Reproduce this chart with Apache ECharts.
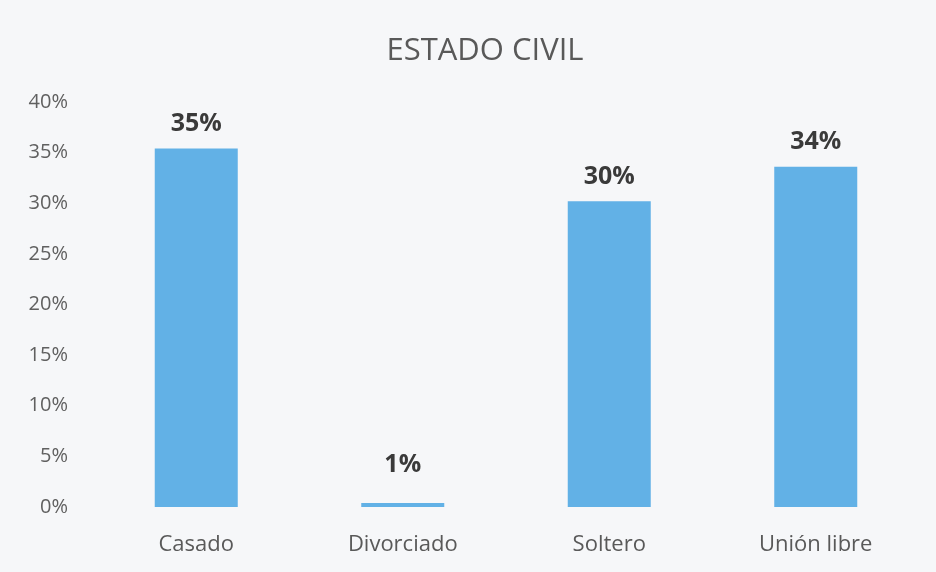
<!DOCTYPE html>
<html>
<head>
<meta charset="utf-8">
<script src="https://cdn.jsdelivr.net/npm/echarts@6/dist/echarts.min.js"></script>
<style>
  html, body { margin: 0; padding: 0; background: #f6f7f9; }
  #chart { width: 936px; height: 572px; }
</style>
</head>
<body>
<div id="chart"></div>
<script>
// Estado civil - bar heights, labels as printed
const categories = ['Casado', 'Divorciado', 'Soltero', 'Unión libre'];
const values = [35.4, 0.4, 30.2, 33.6];
const valueLabels = ['35%', '1%', '30%', '34%'];
const yTicks = [0, 5, 10, 15, 20, 25, 30, 35, 40];

const chart = echarts.init(document.getElementById('chart'));

const seriesData = values.map((v, i) => {
  const item = { value: v };
  // the small bar has its label lifted higher
  if (v < 2) item.label = { offset: [0, -14] };
  return item;
});

chart.setOption({
  backgroundColor: '#f6f7f9',
  title: {
    text: 'ESTADO CIVIL',
    left: 480,
    top: 31,
    textAlign: 'center',
    textStyle: {
      fontFamily: 'Open Sans',
      fontSize: 31,
      fontWeight: 'normal',
      color: '#595959',
    },
  },
  grid: { left: 93, right: 17, top: 102, bottom: 65 },
  xAxis: {
    type: 'category',
    data: categories,
    axisLine: { show: false },
    axisTick: { show: false },
    axisLabel: {
      margin: 27,
      fontFamily: 'Open Sans',
      fontSize: 22,
      color: '#595959',
    },
  },
  yAxis: {
    type: 'value',
    min: yTicks[0],
    max: yTicks[yTicks.length - 1],
    interval: 5,
    splitLine: { show: false },
    axisLine: { show: false },
    axisTick: { show: false },
    axisLabel: {
      margin: 25,
      fontFamily: 'Open Sans',
      fontSize: 20,
      color: '#606060',
      formatter: v => v + '%',
    },
  },
  series: [{
    type: 'bar',
    data: seriesData,
    barWidth: 83,
    itemStyle: { color: '#62b1e6' },
    label: {
      show: true,
      position: 'top',
      distance: 12,
      fontFamily: 'Open Sans',
      fontWeight: 'bold',
      fontSize: 25,
      color: '#3a3a3a',
      formatter: p => valueLabels[p.dataIndex],
    },
  }],
});
</script>
</body>
</html>
